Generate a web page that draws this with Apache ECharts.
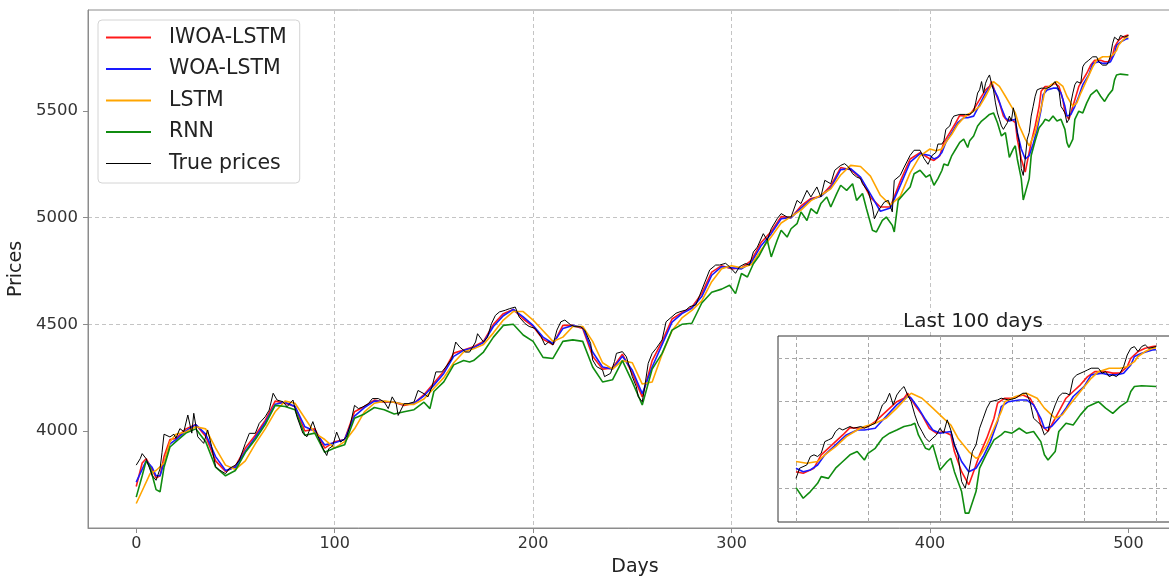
<!DOCTYPE html>
<html><head><meta charset="utf-8">
<script src="https://cdn.jsdelivr.net/npm/echarts@6/dist/echarts.min.js"></script>
<style>html,body{margin:0;padding:0;background:#fff}#c{width:1169px;height:579px}</style>
</head><body><div id="c"></div><script>
const seriesNames = ['IWOA-LSTM','WOA-LSTM','LSTM','RNN','True prices'];
const xTicks = [0,100,200,300,400,500];
const yTicks = [4000,4500,5000,5500];
const insetTitle = 'Last 100 days';

const truePrices = [[0,3840],[2,3870],[3,3894],[5,3870],[6,3862],[8,3792],[10,3769],[12,3823],[13,3900],[14,3985],[17,3972],[19,3985],[20,3966],[22,4011],[24,3997],[26,4075],[28,3990],[29,4083],[31,3973],[34,3942],[36,4005],[38,3927],[40,3833],[42,3817],[45,3800],[47,3825],[50,3840],[52,3864],[55,3942],[57,3989],[60,3989],[62,4036],[65,4067],[67,4098],[69,4177],[71,4145],[74,4137],[76,4114],[79,4145],[81,4067],[84,3989],[86,3973],[89,4044],[91,3989],[94,3920],[96,3885],[97,3917],[99,3930],[101,3995],[103,3948],[106,3972],[108,4034],[110,4120],[112,4105],[114,4112],[117,4128],[119,4152],[122,4152],[125,4136],[127,4105],[129,4160],[131,4128],[132,4073],[135,4128],[137,4128],[140,4136],[142,4190],[145,4175],[147,4160],[149,4206],[151,4277],[154,4277],[156,4300],[159,4339],[161,4417],[163,4394],[166,4370],[168,4370],[171,4417],[172,4456],[175,4417],[177,4440],[179,4503],[181,4542],[183,4558],[186,4566],[188,4573],[191,4581],[193,4534],[196,4503],[198,4490],[201,4481],[204,4442],[206,4403],[208,4419],[210,4403],[212,4473],[214,4512],[216,4520],[219,4497],[221,4489],[224,4489],[226,4473],[229,4411],[230,4333],[232,4302],[235,4286],[236,4255],[239,4270],[241,4325],[242,4364],[245,4372],[247,4348],[249,4286],[250,4255],[252,4208],[253,4161],[255,4137],[256,4192],[258,4317],[260,4364],[262,4387],[265,4427],[267,4512],[269,4528],[272,4552],[274,4559],[277,4567],[279,4583],[282,4591],[284,4637],[287,4708],[289,4755],[292,4778],[294,4778],[297,4786],[299,4770],[302,4739],[304,4770],[307,4785],[309,4777],[311,4839],[313,4862],[316,4925],[318,4894],[320,4948],[323,4995],[325,5019],[328,5003],[330,5003],[333,5081],[335,5066],[338,5128],[340,5097],[343,5144],[345,5097],[347,5175],[350,5159],[352,5222],[355,5245],[357,5253],[359,5237],[361,5206],[363,5191],[365,5183],[366,5159],[369,5120],[371,5050],[372,4995],[374,5034],[377,5073],[379,5081],[381,5027],[382,5175],[385,5198],[387,5237],[390,5292],[392,5316],[395,5316],[397,5277],[399,5250],
[400,5244],[401,5291],[403,5306],[404,5345],[405,5353],[406,5345],[407,5360],[408,5414],[409,5422],[410,5430],[411,5461],[412,5476],[413,5468],[415,5484],[416,5476],[418,5484],[419,5476],[420,5484],[422,5499],[423,5538],[424,5584],[425,5599],[426,5638],[427,5584],[428,5630],[429,5653],[430,5669],[431,5630],[432,5599],[433,5538],[434,5491],[435,5461],[436,5430],[437,5414],[438,5430],[439,5445],[440,5476],[441,5453],[442,5515],[443,5468],[444,5399],[445,5353],[446,5230],[447,5198],[448,5275],[449,5368],[450,5399],[451,5476],[452,5522],[453,5569],[454,5599],[456,5607],[457,5615],[459,5607],[461,5615],[463,5638],[464,5638],[465,5599],[466,5522],[467,5507],[468,5491],[469,5445],[470,5461],[471,5538],[472,5584],[473,5623],[474,5638],[475,5638],[476,5630],[477,5707],[478,5723],[480,5738],[481,5746],[482,5754],[484,5754],[485,5731],[486,5738],[487,5715],[488,5723],[489,5715],[490,5731],[491,5761],[492,5815],[493,5846],[494,5854],[495,5831],[496,5854],[497,5862],[498,5846],[500,5854]];

const iwoaLstm = [[0,3740],[3,3850],[5,3870],[8,3820],[10,3780],[12,3790],[14,3880],[17,3960],[20,3965],[25,4010],[30,4030],[35,3975],[40,3860],[45,3810],[50,3835],[55,3920],[60,3980],[65,4050],[70,4140],[75,4130],[80,4115],[85,4000],[90,4010],[95,3920],[100,3950],[105,3960],[110,4090],[115,4115],[120,4145],[125,4135],[130,4135],[135,4120],[140,4130],[145,4170],[150,4225],[155,4280],[160,4365],[165,4380],[170,4395],[175,4420],[180,4500],[185,4550],[190,4570],[195,4525],[200,4490],[205,4430],[210,4405],[215,4495],[220,4495],[225,4480],[230,4350],[235,4290],[240,4295],[245,4360],[250,4270],[255,4160],[260,4330],[265,4420],[270,4525],[275,4555],[280,4580],[285,4645],[290,4745],[295,4775],[300,4760],[305,4765],[310,4800],[315,4885],[320,4935],[325,5005],[330,5000],[335,5055],[340,5090],[345,5100],[350,5150],[355,5235],[360,5225],[365,5185],[370,5095],[375,5050],[380,5050],[385,5170],[390,5275],[395,5305],
[400,5275],[402,5268],[405,5291],[407,5353],[410,5399],[413,5445],[415,5479],[418,5476],[420,5484],[422,5507],[425,5553],[428,5599],[430,5615],[431,5638],[433,5584],[435,5538],[437,5476],[439,5453],[441,5461],[443,5445],[444,5368],[446,5275],[448,5214],[449,5260],[451,5353],[453,5430],[455,5522],[456,5592],[458,5615],[460,5615],[463,5630],[465,5615],[467,5553],[468,5491],[470,5461],[471,5491],[473,5553],[475,5615],[477,5646],[479,5677],[481,5715],[483,5738],[486,5738],[488,5731],[490,5731],[492,5761],[493,5800],[495,5831],[497,5846],[499,5854],[500,5856]];

const woaLstm = [[0,3760],[3,3820],[5,3860],[8,3830],[10,3790],[12,3790],[14,3850],[17,3940],[20,3960],[25,4000],[30,4030],[35,3985],[40,3880],[45,3815],[50,3830],[55,3905],[60,3970],[65,4040],[70,4125],[75,4135],[80,4115],[85,4020],[90,4000],[95,3935],[100,3945],[105,3960],[110,4070],[115,4110],[120,4140],[125,4138],[130,4135],[135,4125],[140,4130],[145,4165],[150,4215],[155,4270],[160,4350],[165,4378],[170,4390],[175,4415],[180,4490],[185,4540],[190,4570],[195,4535],[200,4495],[205,4440],[210,4410],[215,4480],[220,4495],[225,4485],[230,4370],[235,4300],[240,4290],[245,4350],[250,4285],[255,4175],[260,4300],[265,4405],[270,4510],[275,4550],[280,4575],[285,4630],[290,4730],[295,4770],[300,4765],[305,4760],[310,4790],[315,4870],[320,4925],[325,4995],[330,5000],[335,5045],[340,5085],[345,5100],[350,5140],[355,5225],[360,5230],[365,5190],[370,5110],[375,5030],[380,5045],[385,5150],[390,5260],[395,5300],
[400,5291],[402,5275],[404,5283],[406,5306],[408,5353],[411,5399],[414,5445],[417,5468],[419,5468],[422,5476],[425,5530],[428,5584],[431,5623],[432,5615],[434,5569],[436,5515],[438,5468],[440,5453],[443,5461],[444,5399],[446,5322],[448,5275],[450,5291],[452,5345],[454,5414],[456,5507],[457,5576],[459,5599],[462,5607],[464,5607],[466,5584],[468,5522],[469,5476],[471,5484],[473,5522],[475,5569],[477,5623],[480,5669],[482,5723],[485,5731],[487,5723],[489,5723],[491,5731],[493,5769],[494,5808],[496,5823],[499,5838],[500,5840]];

const lstm = [[0,3660],[3,3720],[7,3800],[10,3815],[14,3850],[17,3950],[20,3985],[25,3995],[30,4020],[35,4010],[40,3920],[45,3840],[50,3820],[55,3860],[60,3940],[65,4010],[70,4090],[75,4140],[80,4130],[85,4060],[90,3990],[95,3960],[100,3920],[105,3950],[110,4010],[115,4090],[120,4130],[125,4140],[130,4135],[135,4125],[140,4125],[145,4150],[150,4200],[155,4250],[160,4320],[165,4370],[170,4385],[175,4405],[180,4460],[185,4520],[190,4560],[195,4560],[200,4520],[205,4470],[210,4420],[215,4440],[220,4490],[225,4490],[230,4420],[235,4320],[240,4290],[245,4330],[250,4320],[255,4220],[260,4230],[265,4360],[270,4470],[275,4530],[280,4565],[285,4610],[290,4700],[295,4760],[300,4775],[305,4765],[310,4780],[315,4850],[320,4910],[325,4975],[330,5005],[335,5035],[340,5080],[345,5105],[350,5135],[355,5200],[360,5245],[365,5240],[370,5195],[375,5105],[380,5060],[385,5100],[390,5210],[395,5290],
[400,5322],[403,5314],[406,5322],[408,5353],[411,5391],[414,5437],[417,5468],[419,5484],[422,5499],[425,5522],[428,5569],[431,5623],[432,5638],[435,5615],[438,5569],[441,5522],[443,5491],[445,5430],[448,5368],[450,5337],[451,5345],[453,5399],[455,5476],[457,5553],[458,5599],[461,5623],[464,5638],[467,5615],[469,5569],[472,5522],[474,5538],[476,5584],[479,5646],[482,5707],[484,5738],[487,5754],[490,5754],[492,5761],[494,5784],[495,5808],[497,5831],[499,5846],[500,5848]];

const rnn = [[0,3690],[3,3790],[5,3860],[7,3830],[10,3725],[12,3715],[14,3830],[17,3925],[20,3950],[25,3990],[30,4010],[35,3950],[40,3830],[45,3790],[50,3815],[55,3900],[60,3960],[65,4030],[70,4120],[75,4115],[80,4100],[85,3980],[90,3990],[95,3900],[100,3920],[105,3935],[110,4060],[115,4080],[120,4110],[125,4100],[130,4080],[135,4090],[140,4100],[145,4135],[148,4105],[150,4185],[155,4230],[160,4310],[165,4330],[168,4323],[170,4330],[175,4370],[180,4440],[185,4495],[190,4500],[195,4450],[200,4420],[205,4345],[210,4340],[215,4420],[220,4427],[225,4420],[230,4300],[235,4230],[240,4240],[245,4330],[250,4230],[255,4122],[260,4290],[265,4364],[270,4473],[275,4500],[280,4505],[285,4600],[290,4650],[295,4665],[299,4683],[302,4644],[305,4738],[308,4722],[311,4784],[314,4823],[318,4894],[320,4816],[323,4894],[325,4941],[328,4909],[330,4948],[333,4972],[335,5027],[338,4987],[340,5042],[343,5019],[345,5066],[348,5097],[350,5050],[353,5113],[355,5152],[358,5128],[361,5159],[363,5081],[366,5113],[368,5042],[371,4941],[373,4933],[376,4987],[378,5003],[381,4964],[382,4933],[384,5081],[387,5113],[390,5144],[392,5206],[395,5222],[398,5190],
[400,5201],[402,5152],[404,5183],[406,5221],[407,5252],[409,5244],[411,5291],[413,5322],[415,5353],[417,5368],[419,5329],[420,5360],[422,5383],[424,5430],[426,5453],[428,5468],[430,5484],[432,5491],[433,5499],[434,5445],[436,5383],[437,5376],[438,5399],[440,5283],[442,5322],[443,5337],[444,5275],[446,5183],[447,5083],[448,5083],[450,5183],[451,5291],[453,5360],[455,5422],[457,5445],[458,5461],[460,5453],[462,5476],[464,5453],[466,5461],[468,5414],[469,5353],[470,5329],[472,5368],[473,5461],[475,5499],[477,5491],[479,5538],[481,5576],[482,5584],[484,5599],[486,5569],[488,5545],[490,5576],[492,5599],[493,5646],[494,5669],[496,5673],[500,5669]];

const FONT = 'DejaVu Sans';
const colors = ['#ff1a1a','#1a1aff','#ffa500','#108c10','#000000'];
const widths = [1.6,1.6,1.6,1.6,1];
const allData = [iwoaLstm, woaLstm, lstm, rnn, truePrices];
const mainGridLine = {show:true, showMinLine:false, showMaxLine:false, lineStyle:{color:'#c4c4c4', width:1, type:[4,3]}};
const insetGridLine = {show:true, showMinLine:false, showMaxLine:false, lineStyle:{color:'#a8a8a8', width:1, type:[4,3]}};
const fmt = v => String(Math.round(v));

const series = [];
seriesNames.forEach((n,i)=>{
  series.push({type:'line', name:n, data:allData[i], xAxisIndex:0, yAxisIndex:0, symbol:'none', showSymbol:false,
    lineStyle:{color:colors[i], width:widths[i]}, itemStyle:{color:colors[i]}, z:2+i, emphasis:{disabled:true}, animation:false});
});
seriesNames.forEach((n,i)=>{
  series.push({type:'line', name:n, data:allData[i].filter(p=>p[0]>=400), xAxisIndex:1, yAxisIndex:1, symbol:'none', showSymbol:false,
    lineStyle:{color:colors[i], width:widths[i]}, itemStyle:{color:colors[i]}, zlevel:1, z:2+i, clip:true, emphasis:{disabled:true}, animation:false});
});

const thick = 'path://M0,0H45V2H0Z';
const thin = 'path://M0,0H45V1H0Z';

const chart = echarts.init(document.getElementById('c'), null, {renderer:'canvas'});
chart.setOption({
  animation:false,
  backgroundColor:'#ffffff',
  textStyle:{fontFamily:FONT},
  grid:[
    {left:88, top:10, width:1094, height:518, show:true, borderColor:'#8c8c8c', borderWidth:1, backgroundColor:'#fff', outerBoundsMode:'none', containLabel:false},
    {left:778, top:336, width:396, height:186, show:true, borderColor:'#333', borderWidth:1, backgroundColor:'#fff', zlevel:1, z:0, outerBoundsMode:'none', containLabel:false}
  ],
  xAxis:[
    {type:'value', gridIndex:0, min:-24.3, max:527, minInterval:100, maxInterval:100,
     name:'Days', nameLocation:'middle', nameGap:30, nameTextStyle:{fontFamily:FONT, fontSize:19, color:'#222'},
     axisLine:{show:true, onZero:false, lineStyle:{color:'#8c8c8c'}},
     axisTick:{show:true, length:5, inside:false, customValues:xTicks, lineStyle:{color:'#8c8c8c'}},
     axisLabel:{show:true, margin:8, fontFamily:FONT, fontSize:16, color:'#333', customValues:xTicks, formatter:fmt},
     splitLine:mainGridLine},
    {type:'value', gridIndex:1, min:395, max:505, minInterval:20, maxInterval:20, zlevel:1,
     axisLine:{show:false}, axisTick:{show:false}, axisLabel:{show:false}, splitLine:insetGridLine}
  ],
  yAxis:[
    {type:'value', gridIndex:0, min:3545.3, max:5973.4, minInterval:500, maxInterval:500,
     name:'Prices', nameLocation:'middle', nameGap:55, nameTextStyle:{fontFamily:FONT, fontSize:19, color:'#222'},
     axisLine:{show:true, onZero:false, lineStyle:{color:'#8c8c8c'}},
     axisTick:{show:true, length:5, inside:false, customValues:yTicks, lineStyle:{color:'#8c8c8c'}},
     axisLabel:{show:true, margin:10, fontFamily:FONT, fontSize:16.5, color:'#333', customValues:yTicks, formatter:fmt},
     splitLine:mainGridLine},
    {type:'value', gridIndex:1, min:5042, max:5903, minInterval:200, maxInterval:200, zlevel:1,
     axisLine:{show:false, onZero:false}, axisTick:{show:false}, axisLabel:{show:false}, splitLine:insetGridLine}
  ],
  legend:{
    left:98, top:20, orient:'vertical', itemWidth:45, itemHeight:14, itemGap:10.5, symbolKeepAspect:true,
    padding:[7,13,9,8], backgroundColor:'rgba(255,255,255,0.8)', borderColor:'#d4d4d4', borderWidth:1, borderRadius:4,
    textStyle:{fontFamily:FONT, fontSize:20.5, color:'#222', lineHeight:20, padding:[0,0,0,13]},
    selectedMode:false,
    data:[
      {name:seriesNames[0], icon:thick},
      {name:seriesNames[1], icon:thick},
      {name:seriesNames[2], icon:thick},
      {name:seriesNames[3], icon:thick},
      {name:seriesNames[4], icon:thin}
    ]
  },
  graphic:[
    {type:'text', x:973, y:322, zlevel:1, z:10, style:{text:insetTitle, font:'20px "DejaVu Sans"', fill:'#222', align:'center', verticalAlign:'middle', textAlign:'center', textVerticalAlign:'middle', backgroundColor:'#fff'}}
  ],
  series:series
});
</script></body></html>
